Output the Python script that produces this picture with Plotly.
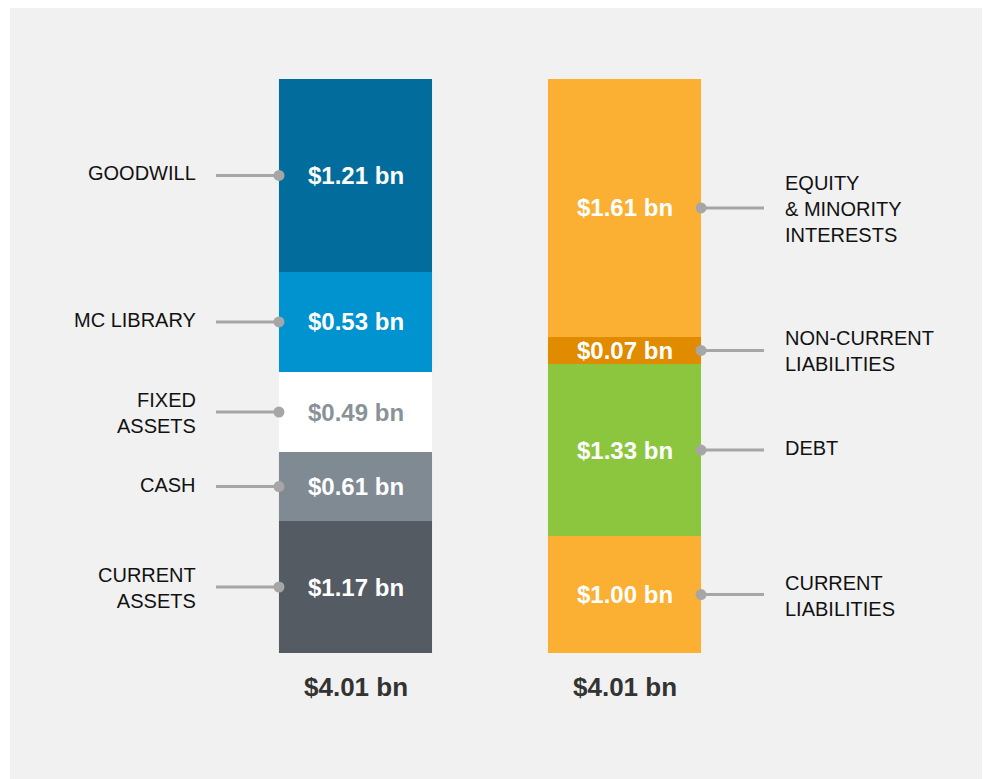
import plotly.graph_objects as go
import numpy as np

# ---- data (bottom to top) ----
asset_names = ["CURRENT<br>ASSETS", "CASH", "FIXED<br>ASSETS", "MC LIBRARY", "GOODWILL"]
asset_values = [1.17, 0.61, 0.49, 0.53, 1.21]
asset_heights = [0.922, 0.482, 0.559, 0.699, 1.348]   # drawn segment sizes
asset_colors = ["#545b63", "#808a93", "#ffffff", "#0093cf", "#026d9c"]
asset_text_colors = ["#ffffff", "#ffffff", "#8a9299", "#ffffff", "#ffffff"]

liab_names = ["CURRENT<br>LIABILITIES", "DEBT", "NON-CURRENT<br>LIABILITIES", "EQUITY<br>& MINORITY<br>INTERESTS"]
liab_values = [1.00, 1.33, 0.07, 1.61]
liab_heights = [0.817, 1.202, 0.189, 1.802]
liab_colors = ["#fbb034", "#8cc63f", "#e08b00", "#fbb034"]
liab_text_colors = ["#ffffff", "#ffffff", "#ffffff", "#ffffff"]

totals = ["$4.01 bn", "$4.01 bn"]

FONT = "Liberation Sans, Arial, sans-serif"
W, H = 1000, 779
OFF = 8  # page margin of the html body
bar_w = 0.569
total_h = sum(asset_heights)
px = total_h / 574.0  # data units per pixel (vertical)
bottom_px = 653 - OFF
c0_px = 355.5 - OFF

fig = go.Figure()

def add_side(xpos, names, values, heights, colors, tcolors, side):
    heights = np.array(heights)
    bases = np.concatenate([[0], np.cumsum(heights)[:-1]])
    centers = bases + heights / 2
    fig.add_trace(go.Bar(x=[xpos] * len(heights), y=heights, base=bases, width=bar_w,
                         marker=dict(color=colors, line=dict(width=0)),
                         hoverinfo="skip", showlegend=False))
    for v, c, tc in zip(values, centers, tcolors):
        fig.add_annotation(x=xpos, y=c, text=f"<b>${v:.2f} bn</b>", showarrow=False,
                           font=dict(family=FONT, size=24, color=tc))
    edge = xpos + side * bar_w / 2
    far = xpos + side * 0.5186
    lx, ly = [], []
    for c in centers:
        lx += [far, edge, None]
        ly += [c, c, None]
    fig.add_trace(go.Scatter(x=lx, y=ly, mode="lines", line=dict(color="#a6a6a6", width=3),
                             hoverinfo="skip", showlegend=False))
    fig.add_trace(go.Scatter(x=[edge] * len(centers), y=centers, mode="markers",
                             marker=dict(color="#a6a6a6", size=11),
                             hoverinfo="skip", showlegend=False))
    for n, c in zip(names, centers):
        multi = "<br>" in n
        fig.add_annotation(x=xpos + side * (0.5855 if side < 0 else 0.589), y=c, text=n,
                           showarrow=False, yshift=-1 if multi else 2,
                           xanchor="right" if side < 0 else "left",
                           align="right" if side < 0 else "left",
                           font=dict(family=FONT, size=20, color="#111111"))

add_side(0, asset_names, asset_values, asset_heights, asset_colors, asset_text_colors, -1)
add_side(1, liab_names, liab_values, liab_heights, liab_colors, liab_text_colors, 1)

for i, t in enumerate(totals):
    fig.add_annotation(x=i, y=-34 * px, text=f"<b>{t}</b>", showarrow=False,
                       font=dict(family=FONT, size=26, color="#333333"))

x0 = -c0_px / 269
x1 = (W - c0_px) / 269
fig.update_layout(
    width=W, height=H,
    margin=dict(l=0, r=0, t=0, b=0),
    paper_bgcolor="#ffffff", plot_bgcolor="rgba(0,0,0,0)",
    barmode="overlay",
    xaxis=dict(range=[x0, x1], visible=False, fixedrange=True),
    yaxis=dict(range=[-(H - bottom_px) * px, bottom_px * px], visible=False, fixedrange=True),
    shapes=[dict(type="rect", xref="paper", yref="paper", x0=2 / W, x1=1, y0=0, y1=1,
                 fillcolor="#f1f1f1", line=dict(width=0), layer="below")],
)

fig.write_html("out.html")
